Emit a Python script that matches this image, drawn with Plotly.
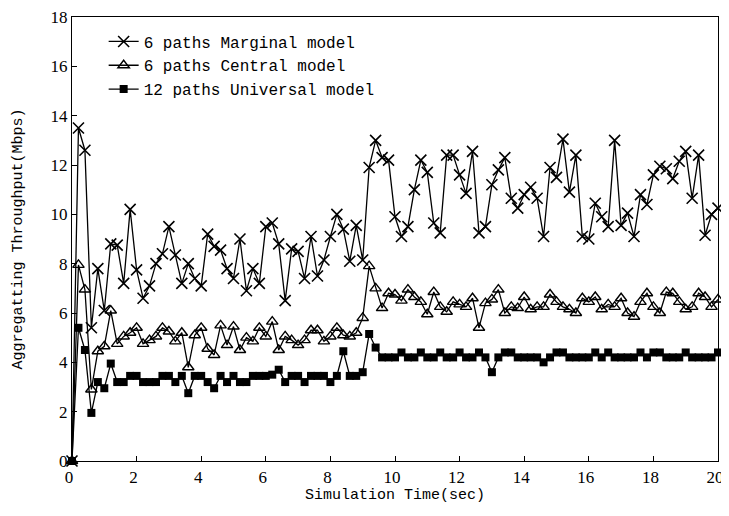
import plotly.graph_objects as go

time_sec = [round(i * 0.2, 1) for i in range(101)]

marginal_6 = [
    0, 13.5, 12.6, 5.4, 7.8, 6.1, 8.8, 8.75, 7.2, 10.2,
    7.75, 6.6, 7.1, 8.0, 8.4, 9.5, 8.35, 7.2, 8.0, 7.4,
    7.1, 9.2, 8.7, 8.55, 7.8, 7.4, 9.0, 6.9, 7.8, 7.2,
    9.5, 9.65, 8.8, 6.5, 8.6, 8.5, 7.4, 9.1, 7.5, 8.15,
    9.1, 10.0, 9.4, 8.1, 9.55, 8.15, 11.9, 13.0, 12.3, 12.2,
    9.9, 9.1, 9.5, 11.0, 12.2, 11.7, 9.65, 9.25, 12.4, 12.4,
    11.6, 10.85, 12.55, 9.25, 9.5, 11.2, 11.8, 12.3, 10.65, 10.25,
    10.8, 11.1, 10.65, 9.1, 11.9, 11.5, 13.05, 10.9, 12.4, 9.1,
    9.0, 10.45, 9.9, 9.5, 13.0, 9.55, 10.05, 9.1, 10.8, 10.4,
    11.6, 11.95, 11.85, 11.45, 12.15, 12.55, 10.65, 12.4, 9.15, 10.0,
    10.25,
]

central_6 = [
    0, 7.95, 6.95, 2.9, 4.45, 4.65, 6.1, 4.75, 5.05, 5.2,
    5.4, 4.75, 4.9, 5.05, 5.4, 5.25, 4.85, 5.2, 3.8, 5.1,
    5.4, 4.55, 4.3, 5.5, 4.7, 5.45, 4.5, 5.0, 4.85, 5.4,
    5.05, 5.65, 4.5, 5.05, 4.9, 4.7, 4.9, 5.3, 5.3, 4.85,
    5.05, 5.4, 5.1, 5.05, 5.2, 5.8, 7.9, 7.0, 6.2, 6.8,
    6.75, 6.5, 6.95, 6.65, 6.45, 5.95, 6.85, 6.25, 6.05, 6.45,
    6.35, 6.25, 6.6, 5.4, 6.4, 6.55, 6.95, 6.0, 6.25, 6.2,
    6.65, 6.15, 6.25, 6.25, 6.75, 6.45, 6.25, 6.15, 6.0, 6.6,
    6.45, 6.65, 6.15, 6.35, 6.25, 6.6, 6.0, 5.85, 6.45, 6.8,
    6.25, 6.0, 6.85, 6.8, 6.45, 6.15, 6.25, 6.8, 6.65, 6.25,
    6.55,
]

universal_12 = [
    0, 5.4, 4.5, 1.95, 3.2, 2.95, 3.95, 3.2, 3.2, 3.45,
    3.45, 3.2, 3.2, 3.2, 3.45, 3.45, 3.2, 3.45, 2.75, 3.45,
    3.45, 3.2, 2.95, 3.45, 3.2, 3.45, 3.2, 3.2, 3.45, 3.45,
    3.45, 3.5, 3.7, 3.2, 3.45, 3.45, 3.2, 3.45, 3.45, 3.45,
    3.2, 3.45, 4.45, 3.45, 3.45, 3.6, 5.15, 4.6, 4.2, 4.2,
    4.2, 4.4, 4.2, 4.2, 4.4, 4.2, 4.2, 4.4, 4.2, 4.2,
    4.4, 4.2, 4.2, 4.4, 4.2, 3.6, 4.2, 4.4, 4.4, 4.2,
    4.2, 4.2, 4.2, 4.0, 4.2, 4.4, 4.4, 4.2, 4.2, 4.2,
    4.2, 4.4, 4.2, 4.4, 4.2, 4.2, 4.2, 4.2, 4.4, 4.2,
    4.4, 4.4, 4.2, 4.2, 4.2, 4.4, 4.2, 4.2, 4.2, 4.2,
    4.4,
]

series_names = ["6 paths Marginal model", "6 paths Central model", "12 paths Universal model"]
x_ticks = list(range(0, 21, 2))
y_ticks = list(range(0, 19, 2))

SERIF = "Times New Roman, Liberation Serif, serif"
MONO = "Liberation Mono, monospace"

fig = go.Figure()
fig.add_trace(go.Scatter(
    x=time_sec, y=marginal_6, name=series_names[0], mode="lines+markers",
    line=dict(color="black", width=1.3),
    marker=dict(symbol="x-thin-open", size=11, color="black", line=dict(color="black", width=1.6)),
    cliponaxis=False, legendgroup="a"))
fig.add_trace(go.Scatter(
    x=time_sec, y=central_6, name=series_names[1], mode="lines+markers",
    line=dict(color="black", width=1.3),
    marker=dict(symbol="triangle-up-open", size=10, color="black", line=dict(color="black", width=1.4)),
    cliponaxis=False, legendgroup="b"))
fig.add_trace(go.Scatter(
    x=time_sec, y=universal_12, name=series_names[2], mode="lines+markers",
    line=dict(color="black", width=1.3),
    marker=dict(symbol="square", size=8, color="black"),
    cliponaxis=False, legendgroup="c"))

axis_common = dict(
    showline=True, linecolor="black", linewidth=1.2, mirror=True,
    ticks="inside", ticklen=5, tickcolor="black", showgrid=False, zeroline=False,
    automargin=False, ticklabeloverflow="allow",
    tickfont=dict(family=SERIF, size=17, color="black"),
)

# page body has an 8px margin, so the figure is sized to fit inside the window
fig.update_layout(
    width=716, height=496,
    margin=dict(l=64, r=6, t=9, b=43),
    paper_bgcolor="white", plot_bgcolor="white",
    showlegend=True,
    legend=dict(x=0.049, y=0.983, xanchor="left", yanchor="top",
                bgcolor="rgba(0,0,0,0)", borderwidth=0,
                font=dict(family=MONO, size=16, color="black"),
                traceorder="grouped", tracegroupgap=0, itemwidth=30),
    xaxis=dict(range=[0, 20], tickvals=x_ticks, ticklabelshift=-3,
               title=dict(text="Simulation Time(sec)", standoff=6,
                          font=dict(family=MONO, size=15, color="black")),
               **axis_common),
    yaxis=dict(range=[0, 18], tickvals=y_ticks,
               title=dict(text="Aggregatting Throughput(Mbps)", standoff=24,
                          font=dict(family=MONO, size=15, color="black")),
               **axis_common),
)

fig.write_html("out.html")
